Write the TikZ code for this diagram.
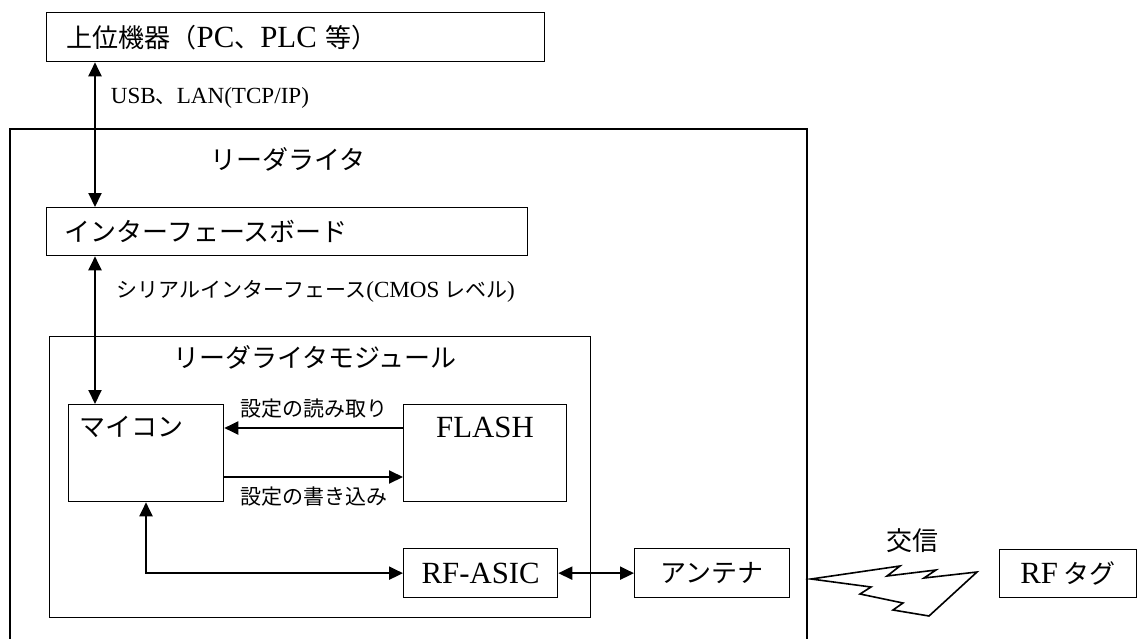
\documentclass[tikz,border=0pt]{standalone}
\usepackage{fontspec}
\setmainfont{Liberation Serif}[Scale=1.1]
\newfontfamily\cjk{Noto Sans CJK JP}
\usetikzlibrary{arrows.meta}
\newcommand\bigjp{\cjk\fontsize{26}{30}\selectfont}
\newcommand\smalljp{\cjk\fontsize{21}{25}\selectfont}
\newcommand\en[1]{{\rmfamily #1}}
\newcommand\EN[1]{{\fontsize{28}{32}\rmfamily #1}}
\begin{document}
\begin{tikzpicture}[x=1pt, y=-1pt, font=\bigjp,
  box/.style = {draw, line width=1.3pt, inner sep=0pt, anchor=north west},
  arr/.style = {line width=2pt, -{Triangle[length=14pt, width=13pt]}},
  arrs/.style = {line width=2pt, {Triangle[length=14pt, width=13pt]}-{Triangle[length=14pt, width=13pt]}}]

\useasboundingbox (0,0) rectangle (1147,639);

\node[box, minimum height=49pt, text width=458pt, inner xsep=20pt, align=left] (host) at (46,12) {上位機器（\EN{PC}、\EN{PLC} 等）};

\draw[line width=1.8pt] (10,645) -- (10,129) -- (807,129) -- (807,645);
\node (trw) at (288,159) {リーダライタ};

\node[box, minimum height=48pt, text width=445pt, inner xsep=18pt, align=left] (iface) at (46,207) {インターフェースボード};

\node[box, minimum width=541pt, minimum height=281pt] (module) at (49,336) {};
\node (tmod) at (315,357) {リーダライタモジュール};

\node[box, minimum width=155pt, minimum height=97pt] (mcu) at (68,404) {};
\node (tmcu) at (131,427) {マイコン};
\node[box, minimum width=163pt, minimum height=97pt] (flash) at (403,404) {};
\node (tflash) at (485,427) {\EN{FLASH}};
\node[box, minimum width=154pt, minimum height=49pt] (asic) at (403,548) {\EN{RF-ASIC}};
\node[box, minimum width=155pt, minimum height=49pt] (ant) at (634,548) {アンテナ};
\node[box, minimum width=137pt, minimum height=48pt] (tag) at (999,549) {\EN{RF} タグ};

\draw[arrs] ([xshift=49pt]host.south west) -- ([xshift=49pt]iface.north west);
\node[anchor=west, font=\smalljp] (lusb) at (107,98) {\en{USB}、\en{LAN(TCP/IP)}};
\draw[arrs] ([xshift=49pt]iface.south west) -- ([xshift=27pt]mcu.north west);
\node[anchor=west, font=\smalljp] (lser) at (113,291) {シリアルインターフェース\en{(CMOS} レベル\en{)}};

\draw[arr] ([yshift=-24pt]flash.north west) -- ([yshift=-24pt]mcu.north east) node[midway, above=5pt, font=\smalljp] (lrd) {設定の読み取り};
\draw[arr] ([yshift=-73pt]mcu.north east) -- ([yshift=-73pt]flash.north west) node[midway, below=5pt, font=\smalljp] (lwr) {設定の書き込み};
\draw[arrs] ([xshift=78pt]mcu.south west) |- (asic.west);
\draw[arrs] (asic.east) -- (ant.west);

\draw[line width=1.6pt] (929,616) -- (893,610) -- (903,603) -- (860,594) -- (871,587) -- (811,579) -- (900,566) -- (887,576) -- (936,570) -- (924,578) -- (977,572) -- cycle;
\node (lcom) at (912,541) {交信};

\end{tikzpicture}
\end{document}
